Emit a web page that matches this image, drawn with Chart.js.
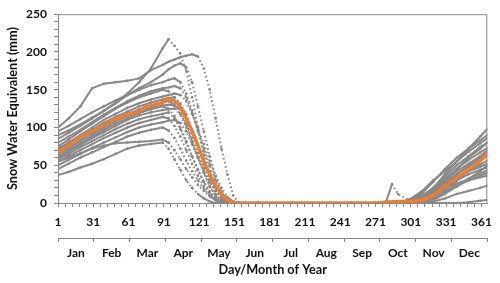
<!DOCTYPE html>
<html>
<head>
<meta charset="utf-8">
<script src="https://cdn.jsdelivr.net/npm/chart.js@4.4.1/dist/chart.umd.min.js"></script>
<style>
  html, body { margin: 0; padding: 0; background: #fff; }
  canvas { display: block; }
</style>
</head>
<body>
<canvas id="sweChart" width="500" height="283"></canvas>
<script>
// days sampled for each year (spring, summer, autumn)
const springDays = [1,10,20,30,40,50,60,70,80,90,95,100,105,110,115,120,125,130,135,140,145,150,155,160];
const summerDays = [170,200,250];
const fallDays = [270,280,285,290,300,310,320,330,340,350,360,366];

// snow water equivalent (mm) per year
const springValues = [
  [100,112,128,152,158,160,162,165,176,183,187,190,193,195,197,194,178,150,112,72,38,10,0,0],
  [90,96,104,113,122,133,145,160,178,205,217,208,198,175,140,100,62,32,12,2,0,0,0,0],
  [85,93,102,112,122,132,143,152,160,170,177,182,185,180,160,128,95,62,35,15,4,0,0,0],
  [95,102,111,120,128,136,143,150,156,160,163,165,160,145,122,95,68,42,22,8,1,0,0,0],
  [80,88,97,107,117,126,135,142,148,152,153,155,152,140,120,96,72,50,30,14,4,0,0,0],
  [75,84,95,105,115,125,133,140,145,150,148,140,125,105,82,60,40,22,10,3,0,0,0,0],
  [72,80,90,100,110,118,126,132,137,141,143,145,143,135,118,98,78,56,36,20,8,2,0,0],
  [70,78,88,97,106,114,121,128,133,137,139,140,132,118,98,76,55,36,20,8,2,0,0,0],
  [68,76,85,94,103,111,118,124,129,133,135,130,118,100,80,60,40,22,9,2,0,0,0,0],
  [65,73,82,91,100,108,115,121,126,129,130,129,124,112,95,75,55,37,22,10,3,0,0,0],
  [62,70,79,88,97,105,112,119,124,128,125,115,100,82,62,44,28,14,5,0,0,0,0,0],
  [60,68,77,86,94,102,110,116,120,123,124,125,118,104,86,66,47,30,16,6,1,0,0,0],
  [58,65,74,82,90,98,105,111,115,118,120,112,98,80,62,44,28,15,6,1,0,0,0,0],
  [55,62,70,78,86,93,100,106,110,114,112,102,88,70,52,36,22,11,4,0,0,0,0,0],
  [50,57,65,73,80,87,94,100,104,107,109,110,106,95,78,60,43,28,16,7,2,0,0,0],
  [45,52,60,67,74,81,88,93,97,100,96,86,72,56,42,30,19,10,4,1,0,0,0,0],
  [55,60,66,72,76,79,80,81,82,84,80,70,58,45,34,24,16,9,4,1,0,0,0,0],
  [37,41,47,52,58,65,72,76,78,80,72,58,44,30,20,12,6,2,0,0,0,0,0,0]
];
const summerValues = [0,0,0];
const fallValues = [
  [0,0,0,0,2,8,20,38,55,72,88,98],
  [0,0,0,0,3,12,28,45,60,72,83,90],
  [0,0,0,0,5,15,30,42,55,68,79,86],
  [0,0,0,0,0,5,18,35,50,62,74,80],
  [0,0,0,0,2,8,20,32,45,57,67,73],
  [0,0,0,0,0,3,12,25,38,50,60,67],
  [0,0,0,0,4,10,18,28,38,48,57,62],
  [0,0,0,0,0,2,8,18,30,42,51,56],
  [0,0,0,0,3,8,15,25,35,42,48,52],
  [0,0,0,0,0,2,10,20,30,38,44,47],
  [0,0,0,0,0,0,5,15,25,32,39,43],
  [0,0,0,0,2,6,12,20,26,30,34,36],
  [0,0,0,0,0,0,2,6,12,16,20,23],
  [0,0,0,0,0,0,0,0,0,1,3,4],
  [0,2,25,12,3,5,14,30,45,60,72,80],
  [0,0,0,0,0,4,16,30,42,52,62,70],
  [0,0,0,0,0,0,4,12,22,32,42,50],
  [0,0,0,0,0,0,6,14,22,30,36,40]
];

// mean of all years
const meanDays = [1,10,20,30,40,50,60,70,75,80,85,90,93,100,105,110,115,120,125,130,135,140,145,150,155,200,250,270,280,290,300,310,320,330,340,350,360,366];
const meanValues = [67,76,87,95,103,111,117,121,127,129,131,133,138,135,127,112,95,76,55,38,23,12,4,1,0,0,0,0,1,2,2,4,10,22,33,44,56,65];

const dayLabels = [1,31,61,91,121,151,181,211,241,271,301,331,361];
const months = ['Jan','Feb','Mar','Apr','May','Jun','Jul','Aug','Sep','Oct','Nov','Dec'];

const GREY = '#888888';
const ORANGE = '#ED7D31';
const FONT = { family: 'Lato, "Noto Sans", sans-serif', size: 12, weight: 'bold' };
const TITLE_FONT = { family: 'Lato, "Noto Sans", sans-serif', size: 12.7, weight: 'bold' };

const allDays = springDays.concat(summerDays, fallDays);
// steep melt (and the odd autumn blip) shows up as loose dots in the original
const meltDash = ctx => (ctx.p0.parsed.y - ctx.p1.parsed.y > 6 ? [1.6, 2.6] : undefined);
const yearSets = springValues.map((sp, i) => {
  const vals = sp.concat(summerValues, fallValues[i]);
  return {
    data: allDays.map((d, j) => ({ x: d, y: vals[j] })),
    showLine: true,
    borderColor: GREY,
    borderWidth: 2,
    backgroundColor: GREY,
    pointRadius: 1.3,
    pointBorderWidth: 0,
    segment: { borderDash: meltDash },
    order: 2
  };
});

const meanSet = {
  data: meanDays.map((d, j) => ({ x: d, y: meanValues[j] })),
  showLine: true,
  borderColor: ORANGE,
  borderWidth: 3.5,
  pointRadius: 0,
  tension: 0.2,
  order: 1
};

const monthSpan = 365 / 12;
const framePlugin = {
  id: 'frame',
  beforeDatasetsDraw(chart) {
    const { ctx, chartArea: a } = chart;
    ctx.save();
    ctx.strokeStyle = GREY;
    ctx.lineWidth = 1;
    ctx.beginPath();
    ctx.moveTo(a.left, a.top + 0.5);
    ctx.lineTo(a.right - 0.5, a.top + 0.5);
    ctx.lineTo(a.right - 0.5, a.bottom);
    ctx.stroke();
    ctx.restore();
  }
};

new Chart(document.getElementById('sweChart'), {
  type: 'scatter',
  data: { datasets: yearSets.concat([meanSet]) },
  plugins: [framePlugin],
  options: {
    responsive: false,
    devicePixelRatio: 1,
    animation: false,
    layout: { padding: { top: 11, right: 11, left: 0, bottom: 0 } },
    plugins: { legend: { display: false }, tooltip: { enabled: false } },
    scales: {
      x: {
        type: 'linear',
        position: 'bottom',
        min: 1,
        max: 366,
        afterBuildTicks: s => {
          const t = [];
          for (let d = 1; d <= 361; d += 6) t.push({ value: d });
          s.ticks = t;
        },
        afterFit: s => { s.height = 35; },
        ticks: {
          autoSkip: false,
          maxRotation: 0,
          padding: 8,
          color: '#111',
          font: FONT,
          callback: v => dayLabels.includes(v) ? String(v) : ''
        },
        grid: { drawOnChartArea: false, color: GREY, tickLength: 4 },
        border: { color: GREY, width: 1 }
      },
      months: {
        type: 'linear',
        position: 'bottom',
        min: 1,
        max: 366,
        afterBuildTicks: s => {
          const t = [];
          for (let k = 0; k <= 12; k++) {
            t.push({ value: 1 + k * monthSpan });
            if (k < 12) t.push({ value: 1 + (k + 0.5) * monthSpan });
          }
          s.ticks = t;
        },
        afterFit: s => { s.height = 45; },
        ticks: {
          autoSkip: false,
          maxRotation: 0,
          padding: 4,
          color: '#111',
          font: FONT,
          callback: (v, i) => i % 2 === 1 ? months[(i - 1) / 2] : ''
        },
        grid: {
          drawOnChartArea: false,
          tickLength: 4,
          color: c => c.index % 2 === 0 ? GREY : 'rgba(0,0,0,0)'
        },
        border: { color: GREY, width: 1 },
        title: {
          display: true,
          text: 'Day/Month of Year',
          color: '#111',
          font: TITLE_FONT,
          padding: { top: 0, bottom: 5 }
        }
      },
      y: {
        min: 0,
        max: 250,
        afterBuildTicks: s => {
          const t = [];
          for (let v = 0; v <= 250; v += 10) t.push({ value: v });
          s.ticks = t;
        },
        afterFit: s => { s.width = 58; },
        ticks: {
          autoSkip: false,
          padding: 7,
          color: '#111',
          font: FONT,
          callback: v => v % 50 === 0 ? String(v) : ''
        },
        grid: { drawOnChartArea: false, color: GREY, tickLength: 4 },
        border: { color: GREY, width: 1 },
        title: {
          display: true,
          text: 'Snow Water Equivalent (mm)',
          color: '#111',
          font: TITLE_FONT,
          padding: { top: 5, bottom: 0 }
        }
      }
    }
  }
});
</script>
</body>
</html>
